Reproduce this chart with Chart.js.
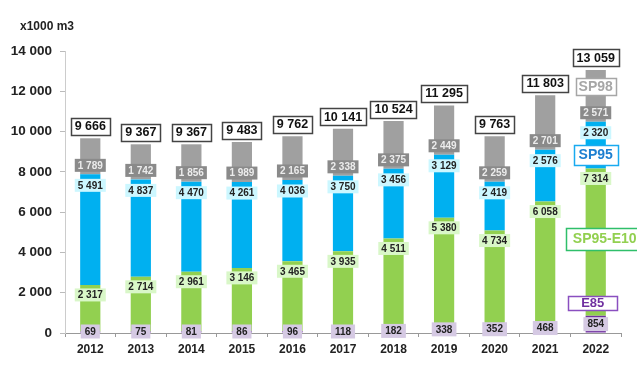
<!DOCTYPE html>
<html>
<head>
<meta charset="utf-8">
<script src="https://cdn.jsdelivr.net/npm/chart.js@4"></script>
<style>
  html, body { margin: 0; padding: 0; background: #fff; }
  #wrap { width: 637px; height: 370px; position: relative; }
</style>
</head>
<body>
<div id="wrap"><canvas id="fuelChart"></canvas></div>
<script>
  // volumes in x1000 m3
  const years = ['2012', '2013', '2014', '2015', '2016', '2017', '2018', '2019', '2020', '2021', '2022'];
  const e85 = [69, 75, 81, 86, 96, 118, 182, 338, 352, 468, 854];
  const sp95e10 = [2317, 2714, 2961, 3146, 3465, 3935, 4511, 5380, 4734, 6058, 7314];
  const sp95 = [5491, 4837, 4470, 4261, 4036, 3750, 3456, 3129, 2419, 2576, 2320];
  const sp98 = [1789, 1742, 1856, 1989, 2165, 2338, 2375, 2449, 2259, 2701, 2571];
  const totals = [9666, 9367, 9367, 9483, 9762, 10141, 10524, 11295, 9763, 11803, 13059];
  const yTicks = [0, 2000, 4000, 6000, 8000, 10000, 12000, 14000];

  const fmt = v => String(v).replace(/\B(?=(\d{3})+(?!\d))/g, ' ');

  function box(ctx, text, cx, cy, o) {
    ctx.font = o.font;
    const w = ctx.measureText(text).width + o.padX * 2;
    const h = o.h;
    if (o.bg) { ctx.fillStyle = o.bg; ctx.fillRect(cx - w / 2, cy - h / 2, w, h); }
    if (o.border) {
      ctx.strokeStyle = o.border; ctx.lineWidth = o.lw || 1;
      ctx.strokeRect(Math.round(cx - w / 2) + 0.5, Math.round(cy - h / 2) + 0.5, Math.round(w), Math.round(h));
    }
    ctx.fillStyle = o.color;
    ctx.textAlign = 'center';
    ctx.textBaseline = 'middle';
    ctx.fillText(text, cx, cy + 0.5);
  }

  const labelPlugin = {
    id: 'labels',
    afterDatasetsDraw(chart) {
      const ctx = chart.ctx;
      const y = chart.scales.y;
      const small = 'bold 10px Arial, "Liberation Sans", sans-serif';
      ctx.save();
      const m0 = chart.getDatasetMeta(0).data;
      const m1 = chart.getDatasetMeta(1).data;
      const m2 = chart.getDatasetMeta(2).data;
      const m3 = chart.getDatasetMeta(3).data;
      years.forEach((yr, i) => {
        const x = m0[i].x;
        box(ctx, fmt(sp98[i]), x, m3[i].base - 9, { font: small, padX: 3, h: 13, bg: '#8a8a8a', color: '#ececec' });
        box(ctx, fmt(sp95[i]), x, m2[i].y + 11, { font: small, padX: 3, h: 13, bg: '#ccf7ff', color: '#222' });
        box(ctx, fmt(sp95e10[i]), x, m1[i].y + 10, { font: small, padX: 3, h: 13, bg: '#d9f7c8', color: '#222' });
        box(ctx, fmt(e85[i]), x, Math.min((m0[i].y + m0[i].base) / 2, m0[i].base - 1), { font: small, padX: 4, h: 14, bg: '#d5c9e3', color: '#222' });
        box(ctx, fmt(totals[i]), x, m3[i].y - 12, { font: 'bold 12.5px Arial, "Liberation Sans", sans-serif', padX: 4, h: 17, bg: '#fff', border: '#444', lw: 1.5, color: '#111' });
      });
      // series names next to the last bar
      const last = m0[m0.length - 1].x;
      const big = 'bold 14px Arial, "Liberation Sans", sans-serif';
      box(ctx, 'SP98', last, y.getPixelForValue(12220), { font: big, padX: 3, h: 17, bg: '#fff', border: '#a6a6a6', lw: 1.5, color: '#a6a6a6' });
      box(ctx, 'SP95', last, y.getPixelForValue(8830), { font: big, padX: 5, h: 20, bg: '#fff', border: '#19aaf0', lw: 1.5, color: '#1d7fd0' });
      box(ctx, 'SP95-E10', last + 9, y.getPixelForValue(4660), { font: big, padX: 7, h: 22, bg: '#fff', border: '#2fbf6a', lw: 1.5, color: '#92d050' });
      box(ctx, 'E85', last - 3, y.getPixelForValue(1490), { font: 'bold 13px Arial, "Liberation Sans", sans-serif', padX: 13, h: 14, bg: '#fff', border: '#8a4fc0', lw: 1.5, color: '#7030a0' });
      // unit
      ctx.font = 'bold 12px Arial, "Liberation Sans", sans-serif';
      ctx.fillStyle = '#222';
      ctx.textAlign = 'left';
      ctx.textBaseline = 'middle';
      ctx.fillText('x1000 m3', 20, 27);
      ctx.restore();
    }
  };

  const ctx = document.getElementById('fuelChart').getContext('2d');
  const fuelChart = new Chart(ctx, {
    type: 'bar',
    data: {
      labels: years,
      datasets: [
        { label: 'E85', data: e85, backgroundColor: '#7030a0' },
        { label: 'SP95-E10', data: sp95e10, backgroundColor: '#92d050' },
        { label: 'SP95', data: sp95, backgroundColor: '#00b0f0' },
        { label: 'SP98', data: sp98, backgroundColor: '#a0a0a0' }
      ]
    },
    options: {
      responsive: true,
      maintainAspectRatio: false,
      animation: false,
      datasets: { bar: { barPercentage: 0.4, categoryPercentage: 1 } },
      layout: { padding: { top: 51, right: 16, left: 0, bottom: 0 } },
      plugins: { legend: { display: false }, tooltip: { enabled: false } },
      scales: {
        x: {
          stacked: true,
          grid: { drawOnChartArea: false, drawTicks: true, tickLength: 4, color: '#999' },
          border: { display: true, color: '#999' },
          ticks: { color: '#222', font: { family: 'Arial, "Liberation Sans", sans-serif', size: 12, weight: 'bold' }, padding: 5 },
          afterFit(scale) { scale.height = 37; }
        },
        y: {
          stacked: true,
          min: 0,
          max: 14000,
          afterBuildTicks(scale) { scale.ticks = yTicks.map(v => ({ value: v })); },
          grid: { drawOnChartArea: false, drawTicks: true, tickLength: 5, color: '#bbb' },
          border: { display: true, color: '#ccc' },
          ticks: {
            color: '#222',
            font: { family: 'Arial, "Liberation Sans", sans-serif', size: 13.5, weight: 'bold' },
            padding: 8,
            callback: v => fmt(v)
          },
          afterFit(scale) { scale.width = 65; }
        }
      }
    },
    plugins: [labelPlugin]
  });
</script>
</body>
</html>
